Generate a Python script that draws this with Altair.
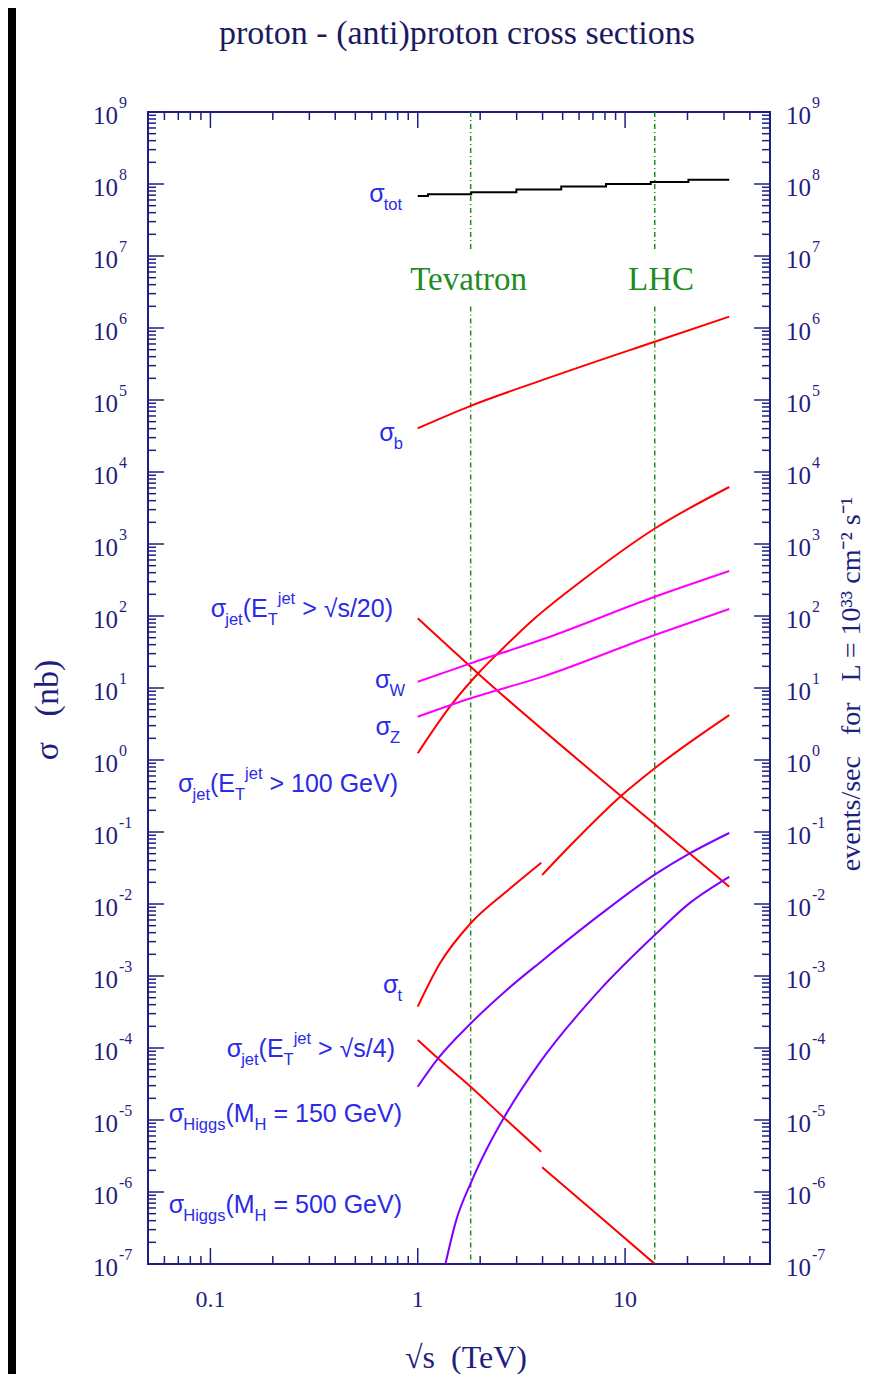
import altair as alt
import pandas as pd

W, H = 622, 1152
NAVY = "#1f1f80"
BLUE = "#2a2ae8"
GREEN = "#228b22"
SERIF = "Liberation Serif, Times New Roman, serif"
SANS = "Liberation Sans, Arial, sans-serif"

# sqrt(s) in TeV, cross sections in nb
tot_x = [1.0, 1.12, 1.81, 2.99, 4.92, 8.09, 13.3, 20.2, 31.8]
tot_y = [6.8e7, 7.2e7, 7.7e7, 8.4e7, 9.2e7, 1.0e8, 1.07e8, 1.15e8, 1.15e8]

b_x = [1.0, 1.80, 4.01, 13.9, 31.8]
b_y = [4.05e4, 8.3e4, 1.9e5, 6.45e5, 1.44e6]

jet100_x = [1.0, 1.43, 1.99, 2.48, 3.59, 6.25, 13.8, 31.8]
jet100_y = [1.24, 5.5, 16.8, 31.9, 88, 316, 1615, 6190]

jet20_x = [1.0, 1.99, 9.56, 31.8]
jet20_y = [93, 15.2, 0.316, 0.0174]

w_x = [1.0, 1.80, 4.01, 13.9, 31.8]
w_y = [12.2, 22, 47.5, 185, 422]

z_x = [1.0, 1.80, 4.01, 13.9, 31.8]
z_y = [3.99, 7.2, 14.4, 54.5, 125]

top_x1 = [1.0, 1.28, 1.80, 2.67, 3.94]
top_y1 = [3.75e-4, 1.5e-3, 5.4e-3, 0.0148, 0.0375]
top_x2 = [3.98, 5.59, 9.56, 13.9, 31.8]
top_y2 = [0.0253, 0.0703, 0.316, 0.767, 4.2]

jet4_x1 = [1.0, 1.25, 1.80, 2.62, 3.94]
jet4_y1 = [1.29e-4, 7.2e-5, 2.9e-5, 1.06e-5, 3.63e-6]
jet4_x2 = [3.98, 7.52, 13.8]
jet4_y2 = [2.2e-6, 4.6e-7, 1.02e-7]

h150_x = [1.0, 1.25, 1.80, 2.67, 4.01, 7.52, 13.9, 20.4, 31.8]
h150_y = [2.9e-5, 7.1e-5, 2.19e-4, 6.3e-4, 1.66e-3, 7.0e-3, 0.0256, 0.050, 0.097]

h500_x = [1.36, 1.535, 1.80, 2.14, 2.62, 3.86, 7.52, 13.9, 20.4, 31.8]
h500_y = [1.0e-7, 4.1e-7, 1.32e-6, 3.83e-6, 1.11e-5, 6.15e-5, 6.3e-4, 3.7e-3, 0.0102, 0.0239]

# collider energies (dotted lines) and where their labels cut them
collider_x = [1.8, 13.9]
collider_gap = [10**6.3, 10**7.08]
collider_names = ["Tevatron", "LHC"]
collider_text_x = [1.76, 14.9]
collider_text_y = 3.4e6

x_major = [0.1, 1, 10]
x_labels = ["0.1", "1", "10"]
x_minor = [m * 10.0**k for k in range(-2, 2) for m in range(2, 10) if 0.05 <= m * 10.0**k <= 50]
y_exp = list(range(-7, 10))
y_major = [10.0**k for k in y_exp]
y_minor = [m * 10.0**k for k in range(-7, 9) for m in range(2, 10)]

curve_labels = [
    [("σ", "n"), ("tot", "sub")],
    [("σ", "n"), ("b", "sub")],
    [("σ", "n"), ("jet", "sub"), ("(E", "n"), ("T", "sub"), ("jet", "sup"), (" > √s/20)", "n")],
    [("σ", "n"), ("W", "sub")],
    [("σ", "n"), ("Z", "sub")],
    [("σ", "n"), ("jet", "sub"), ("(E", "n"), ("T", "sub"), ("jet", "sup"), (" > 100 GeV)", "n")],
    [("σ", "n"), ("t", "sub")],
    [("σ", "n"), ("jet", "sub"), ("(E", "n"), ("T", "sub"), ("jet", "sup"), (" > √s/4)", "n")],
    [("σ", "n"), ("Higgs", "sub"), ("(M", "n"), ("H", "sub"), (" = 150 GeV)", "n")],
    [("σ", "n"), ("Higgs", "sub"), ("(M", "n"), ("H", "sub"), (" = 500 GeV)", "n")],
]
label_base = [5.6e7, 2.7e4, 97, 10, 2.2, 0.36, 5.8e-4, 7.6e-5, 9.5e-6, 5.1e-7]
label_right = [254, 255, 245, 257, 252, 250, 254, 247, 254, 254]

SIZE = {"n": 25, "sub": 16.5, "sup": 16.5}
ARIAL = {" ": 278, "(": 333, ")": 333, "/": 278, "=": 584, ">": 584, "E": 667,
         "G": 778, "H": 722, "M": 833, "T": 611, "V": 667, "W": 944, "Z": 611,
         "b": 556, "e": 556, "g": 556, "i": 222, "j": 222, "o": 556, "s": 500,
         "t": 278, "σ": 579, "√": 549}


def text_width(s, size):
    return sum(ARIAL.get(c, 556) for c in s) * size / 1000


rows = []
for parts, right, base in zip(curve_labels, label_right, label_base):
    pos = right - sum(text_width(t, SIZE[k]) for t, k in parts)
    for t, k in parts:
        lead = len(t) - len(t.lstrip())
        rows.append({"px": pos + text_width(t[:lead], SIZE[k]), "y": base, "t": t.strip(), "kind": k})
        pos += text_width(t, SIZE[k])
label_df = pd.DataFrame(rows)


def frame(name, seg, xs, ys):
    return pd.DataFrame({"curve": name, "seg": seg, "x": xs, "y": ys})


curves = pd.concat([
    frame("b", "b", b_x, b_y),
    frame("jet100", "jet100", jet100_x, jet100_y),
    frame("jet20", "jet20", jet20_x, jet20_y),
    frame("W", "W", w_x, w_y),
    frame("Z", "Z", z_x, z_y),
    frame("top", "top1", top_x1, top_y1),
    frame("top", "top2", top_x2, top_y2),
    frame("jet4", "jet4a", jet4_x1, jet4_y1),
    frame("jet4", "jet4b", jet4_x2, jet4_y2),
    frame("h150", "h150", h150_x, h150_y),
    frame("h500", "h500", h500_x, h500_y),
])
curve_names = ["b", "jet100", "jet20", "W", "Z", "top", "jet4", "h150", "h500"]
curve_colors = ["#ff0000", "#ff0000", "#ff0000", "#ff00ff", "#ff00ff", "#ff0000", "#ff0000", "#8000ff", "#8000ff"]

xscale = alt.Scale(type="log", domain=[0.05, 50], nice=False)
yscale = alt.Scale(type="log", domain=[1e-7, 1e9], nice=False)
X = alt.X("x:Q", scale=xscale, axis=None)
Y = alt.Y("y:Q", scale=yscale, axis=None)

one = pd.DataFrame({"a": [0]})

strip = alt.Chart(one).mark_rect(color="black").encode(
    x=alt.value(-140), x2=alt.value(-132), y=alt.value(-104), y2=alt.value(H + 110)
)

vl = pd.DataFrame({
    "x": collider_x * 2,
    "y": [1e9, 1e9, collider_gap[0], collider_gap[0]],
    "y2": [collider_gap[1], collider_gap[1], 1e-7, 1e-7],
})
vlines = alt.Chart(vl).mark_rule(color=GREEN, strokeWidth=1.5, strokeDash=[5, 3, 1, 3]).encode(
    x=X, y=Y, y2="y2:Q"
)

lines = alt.Chart(curves).mark_line(strokeWidth=2, interpolate="monotone", clip=True).encode(
    x=X,
    y=Y,
    color=alt.Color("curve:N", scale=alt.Scale(domain=curve_names, range=curve_colors), legend=None),
    detail="seg:N",
    order="x:Q",
)

total = alt.Chart(frame("tot", "tot", tot_x, tot_y)).mark_line(
    strokeWidth=2, color="black", interpolate="step-after"
).encode(x=X, y=Y)


def yticks(vals, start, end):
    return alt.Chart(pd.DataFrame({"y": vals})).mark_rule(color=NAVY, strokeWidth=1.5).encode(
        y=Y, x=alt.value(start), x2=alt.value(end)
    )


def xticks(vals, start, end):
    return alt.Chart(pd.DataFrame({"x": vals})).mark_rule(color=NAVY, strokeWidth=1.5).encode(
        x=X, y=alt.value(start), y2=alt.value(end)
    )


ticks = [
    yticks(y_major, 0, 16), yticks(y_minor, 0, 8),
    yticks(y_major, W - 16, W), yticks(y_minor, W - 8, W),
    xticks(x_major, 0, 16), xticks(x_minor, 0, 8),
    xticks(x_major, H - 16, H), xticks(x_minor, H - 8, H),
]

ylab = alt.Chart(pd.DataFrame({"y": y_major, "e": [str(e) for e in y_exp]}))
ylabels = [
    ylab.mark_text(align="right", baseline="middle", font=SERIF, fontSize=25, color=NAVY, dy=4)
    .encode(y=Y, x=alt.value(-30), text=alt.value("10")),
    ylab.mark_text(align="left", baseline="middle", font=SERIF, fontSize=16, color=NAVY, dy=-9)
    .encode(y=Y, x=alt.value(-29), text="e:N"),
    ylab.mark_text(align="left", baseline="middle", font=SERIF, fontSize=25, color=NAVY, dy=4)
    .encode(y=Y, x=alt.value(W + 16), text=alt.value("10")),
    ylab.mark_text(align="left", baseline="middle", font=SERIF, fontSize=16, color=NAVY, dy=-9)
    .encode(y=Y, x=alt.value(W + 42), text="e:N"),
]

xlabels = alt.Chart(pd.DataFrame({"x": x_major, "t": x_labels})).mark_text(
    align="center", baseline="middle", font=SERIF, fontSize=24, color=NAVY
).encode(x=X, y=alt.value(H + 36), text="t:N")

x_title = alt.Chart(pd.DataFrame({"t": ["√s\u00a0\u00a0(TeV)"]})).mark_text(
    font=SERIF, fontSize=32, color=NAVY, align="center", baseline="middle"
).encode(x=alt.value(318), y=alt.value(H + 94), text="t:N")

left_title = alt.Chart(pd.DataFrame({"t": ["σ\u00a0\u00a0\u00a0(nb)"]})).mark_text(
    angle=270, font=SERIF, fontSize=34, color=NAVY, align="center", baseline="middle"
).encode(x=alt.value(-100), y=alt.value(598), text="t:N")

right_title = alt.Chart(
    pd.DataFrame({"t": ["events/sec\u00a0\u00a0\u00a0for\u00a0\u00a0\u00a0L = 10³³ cm⁻² s⁻¹"]})
).mark_text(
    angle=270, font=SERIF, fontSize=28, color=NAVY, align="center", baseline="middle"
).encode(x=alt.value(W + 82), y=alt.value(572), text="t:N")

top_title = alt.Chart(pd.DataFrame({"t": ["proton - (anti)proton cross sections"]})).mark_text(
    font=SERIF, fontSize=34, color="#1a1a5e", align="center", baseline="alphabetic"
).encode(x=alt.value(309), y=alt.value(-68), text="t:N")

collider_labels = alt.Chart(
    pd.DataFrame({"x": collider_text_x, "y": collider_text_y, "t": collider_names})
).mark_text(font=SERIF, fontSize=33, color=GREEN, align="center", baseline="alphabetic").encode(
    x=X, y=Y, text="t:N"
)

main = alt.layer(
    strip, vlines, lines, total, *ticks, *ylabels, xlabels,
    x_title, left_title, right_title, top_title, collider_labels,
)

PX = alt.X("px:Q", scale=alt.Scale(domain=[0, W], nice=False), axis=None)
lab_n = alt.Chart(label_df[label_df["kind"] == "n"]).mark_text(
    align="left", baseline="alphabetic", font=SANS, fontSize=SIZE["n"], color=BLUE
).encode(x=PX, y=Y, text="t:N")
lab_sub = alt.Chart(label_df[label_df["kind"] == "sub"]).mark_text(
    align="left", baseline="alphabetic", font=SANS, fontSize=SIZE["sub"], color=BLUE, dy=8
).encode(x=PX, y=Y, text="t:N")
lab_sup = alt.Chart(label_df[label_df["kind"] == "sup"]).mark_text(
    align="left", baseline="alphabetic", font=SANS, fontSize=SIZE["sup"], color=BLUE, dy=-13
).encode(x=PX, y=Y, text="t:N")
labels = alt.layer(lab_n, lab_sub, lab_sup)

chart = (
    alt.layer(main, labels)
    .resolve_scale(x="independent")
    .properties(
        width=W,
        height=H,
        autosize="none",
        padding={"left": 140, "top": 104, "right": 96, "bottom": 110},
    )
    .configure_view(stroke=NAVY, strokeWidth=2)
)

chart.save("out.html", embed_options={"renderer": "svg", "actions": False})
